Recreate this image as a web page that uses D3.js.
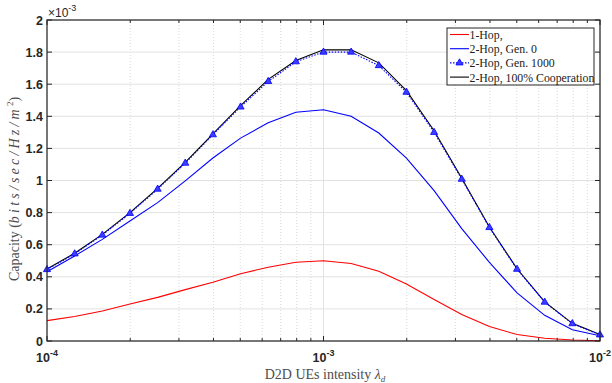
<!DOCTYPE html>
<html>
<head>
<meta charset="utf-8">
<script src="https://cdn.jsdelivr.net/npm/d3@7"></script>
<style>
  body { margin: 0; background: #fff; }
  svg { display: block; }
</style>
</head>
<body>
<div id="chart"></div>
<script>
// x positions: 10 points per decade from 1e-4 to 1e-2
var exponents = [-4,-3.9,-3.8,-3.7,-3.6,-3.5,-3.4,-3.3,-3.2,-3.1,-3,-2.9,-2.8,-2.7,-2.6,-2.5,-2.4,-2.3,-2.2,-2.1,-2];
// capacity values, x 1e-3
var oneHop     = [0.127,0.153,0.187,0.23,0.272,0.32,0.366,0.419,0.46,0.491,0.50,0.483,0.435,0.355,0.258,0.165,0.09,0.04,0.017,0.006,0.002];
var twoHopGen0 = [0.432,0.53,0.633,0.748,0.862,0.998,1.14,1.264,1.36,1.425,1.441,1.40,1.296,1.14,0.937,0.70,0.49,0.30,0.16,0.07,0.033];
var twoHopGen1000 = [0.445,0.543,0.66,0.795,0.946,1.108,1.285,1.458,1.617,1.74,1.80,1.80,1.716,1.55,1.30,1.008,0.707,0.447,0.242,0.108,0.038];
var twoHopCoop = [0.449,0.547,0.664,0.80,0.951,1.113,1.29,1.466,1.63,1.748,1.814,1.814,1.733,1.56,1.31,1.014,0.71,0.45,0.244,0.11,0.04];
var yTicks = [0,0.2,0.4,0.6,0.8,1,1.2,1.4,1.6,1.8,2];
var xMajor = [-4,-3,-2];
var legendNames = ["1-Hop,","2-Hop, Gen. 0","2-Hop, Gen. 1000","2-Hop, 100% Cooperation"];

var W = 612, H = 383;
var svg = d3.select("#chart").append("svg").attr("width", W).attr("height", H);

var x = d3.scaleLog().domain([1e-4, 1e-2]).range([47, 600]);
var y = d3.scaleLinear().domain([0, 2]).range([341, 20]);

var xs = exponents.map(function(e){ return Math.pow(10, e); });

// minor x positions
var minor = [];
[-4,-3].forEach(function(e){
  for (var m = 2; m <= 9; m++) minor.push(m * Math.pow(10, e));
});

var grid = svg.append("g");
grid.selectAll("line.minor").data(minor).enter().append("line")
    .attr("x1", d => x(d)).attr("x2", d => x(d))
    .attr("y1", y(0)).attr("y2", y(2))
    .attr("stroke", "#d0d0d0").attr("stroke-width", 0.8)
    .attr("stroke-dasharray", "1,2");
grid.selectAll("line.hg").data(yTicks).enter().append("line")
    .attr("x1", x(1e-4)).attr("x2", x(1e-2))
    .attr("y1", d => y(d)).attr("y2", d => y(d))
    .attr("stroke", "#e2e2e2").attr("stroke-width", 1);
grid.selectAll("line.vg").data(xMajor).enter().append("line")
    .attr("x1", d => x(Math.pow(10, d))).attr("x2", d => x(Math.pow(10, d)))
    .attr("y1", y(0)).attr("y2", y(2))
    .attr("stroke", "#e2e2e2").attr("stroke-width", 1);

// series
var line = d3.line().x((d, i) => x(xs[i])).y(d => y(d));
var plot = svg.append("g");
plot.append("path").datum(oneHop).attr("d", line)
    .attr("fill", "none").attr("stroke", "#ff0000").attr("stroke-width", 1.1);
plot.append("path").datum(twoHopGen0).attr("d", line)
    .attr("fill", "none").attr("stroke", "#0000ff").attr("stroke-width", 1.1);
plot.append("path").datum(twoHopCoop).attr("d", line)
    .attr("fill", "none").attr("stroke", "#000000").attr("stroke-width", 1.1);
plot.append("path").datum(twoHopGen1000).attr("d", line)
    .attr("fill", "none").attr("stroke", "#0000ff").attr("stroke-width", 1.1)
    .attr("stroke-dasharray", "1.5,1.5");

var tri = d3.symbol().type(d3.symbolTriangle).size(22);
plot.selectAll("path.mk").data(twoHopGen1000).enter().append("path")
    .attr("transform", (d, i) => "translate(" + x(xs[i]) + "," + y(d) + ")")
    .attr("d", tri)
    .attr("fill", "#3d3dff").attr("stroke", "#0000ff").attr("stroke-width", 0.8);

// axes box and ticks
var axisColor = "#262626";
var box = svg.append("g");
box.append("rect").attr("x", x(1e-4)).attr("y", y(2))
   .attr("width", x(1e-2) - x(1e-4)).attr("height", y(0) - y(2))
   .attr("fill", "none").attr("stroke", axisColor).attr("stroke-width", 1.2);

var tk = 5, tkMinor = 3;
box.selectAll("line.yt").data(yTicks).enter().append("line")
   .attr("x1", x(1e-4)).attr("x2", x(1e-4) + tk)
   .attr("y1", d => y(d)).attr("y2", d => y(d))
   .attr("stroke", axisColor);
box.selectAll("line.yt2").data(yTicks).enter().append("line")
   .attr("x1", x(1e-2)).attr("x2", x(1e-2) - tk)
   .attr("y1", d => y(d)).attr("y2", d => y(d))
   .attr("stroke", axisColor);
[y(0), y(2)].forEach(function(yy, j){
  var dir = j === 0 ? -1 : 1;
  box.selectAll(null).data(xMajor).enter().append("line")
     .attr("x1", d => x(Math.pow(10, d))).attr("x2", d => x(Math.pow(10, d)))
     .attr("y1", yy).attr("y2", yy + dir * tk)
     .attr("stroke", axisColor);
  box.selectAll(null).data(minor).enter().append("line")
     .attr("x1", d => x(d)).attr("x2", d => x(d))
     .attr("y1", yy).attr("y2", yy + dir * tkMinor)
     .attr("stroke", axisColor);
});

// tick labels
var tickFont = "'Liberation Sans', Arial, Helvetica, sans-serif";
svg.selectAll("text.yl").data(yTicks).enter().append("text")
   .attr("x", x(1e-4) - 4).attr("y", d => y(d) + 4.5)
   .attr("text-anchor", "end")
   .attr("font-family", tickFont).attr("font-weight", "bold").attr("font-size", 12.5)
   .attr("fill", axisColor)
   .text(d => d);

var xl = svg.selectAll("text.xl").data(xMajor).enter().append("text")
   .attr("x", d => x(Math.pow(10, d)))
   .attr("y", 362)
   .attr("text-anchor", "middle")
   .attr("font-family", tickFont).attr("font-weight", "bold").attr("font-size", 12.5)
   .attr("fill", axisColor);
xl.append("tspan").text("10");
xl.append("tspan").attr("dy", -6).attr("font-size", 9).text(d => d);

// exponent label
var ex = svg.append("text").attr("x", 48).attr("y", 17)
   .attr("font-family", tickFont).attr("font-size", 12).attr("fill", axisColor);
ex.append("tspan").text("\u00d710");
ex.append("tspan").attr("dy", -6).attr("font-size", 9).text("-3");

// axis titles
var serif = "'Liberation Serif', 'DejaVu Serif', 'Times New Roman', serif";
var xt = svg.append("text").attr("x", 325).attr("y", 379)
   .attr("text-anchor", "middle")
   .attr("font-family", serif).attr("font-size", 14).attr("fill", "#4d4d4d");
xt.append("tspan").text("D2D UEs intensity ");
xt.append("tspan").attr("font-style", "italic").text("\u03bb");
xt.append("tspan").attr("font-style", "italic").attr("font-size", 9).attr("dy", 3).text("d");

var yt = svg.append("text")
   .attr("transform", "translate(19,189) rotate(-90)")
   .attr("text-anchor", "middle")
   .attr("font-family", serif).attr("font-size", 14).attr("fill", "#4d4d4d");
yt.append("tspan").text("Capacity (");
yt.append("tspan").attr("font-style", "italic").attr("letter-spacing", 3.2).text("bits/sec/Hz/m");
yt.append("tspan").attr("font-size", 9).attr("dy", -6).text("2");
yt.append("tspan").attr("dy", 6).text(")");

// legend
var lg = svg.append("g").attr("transform", "translate(447,28)");
lg.append("rect").attr("width", 147).attr("height", 57)
  .attr("fill", "#fff").attr("stroke", axisColor).attr("stroke-width", 1);
var legendColors = ["#ff0000", "#0000ff", "#0000ff", "#000000"];
var rows = lg.selectAll("g.row").data(legendNames).enter().append("g")
  .attr("transform", (d, i) => "translate(0," + (6.5 + i * 14.2) + ")");
rows.append("line").attr("x1", 3).attr("x2", 22).attr("y1", 0).attr("y2", 0)
  .attr("stroke", (d, i) => legendColors[i]).attr("stroke-width", 1.1)
  .attr("stroke-dasharray", (d, i) => i === 2 ? "1.5,1.5" : null);
rows.filter((d, i) => i === 2).append("path")
  .attr("transform", "translate(12.5,0)").attr("d", tri)
  .attr("fill", "#3d3dff").attr("stroke", "#0000ff").attr("stroke-width", 0.8);
rows.append("text").attr("x", 22.5).attr("y", 4.5)
  .attr("font-family", serif).attr("font-size", 11.8).attr("fill", "#222")
  .text(d => d);
</script>
</body>
</html>
